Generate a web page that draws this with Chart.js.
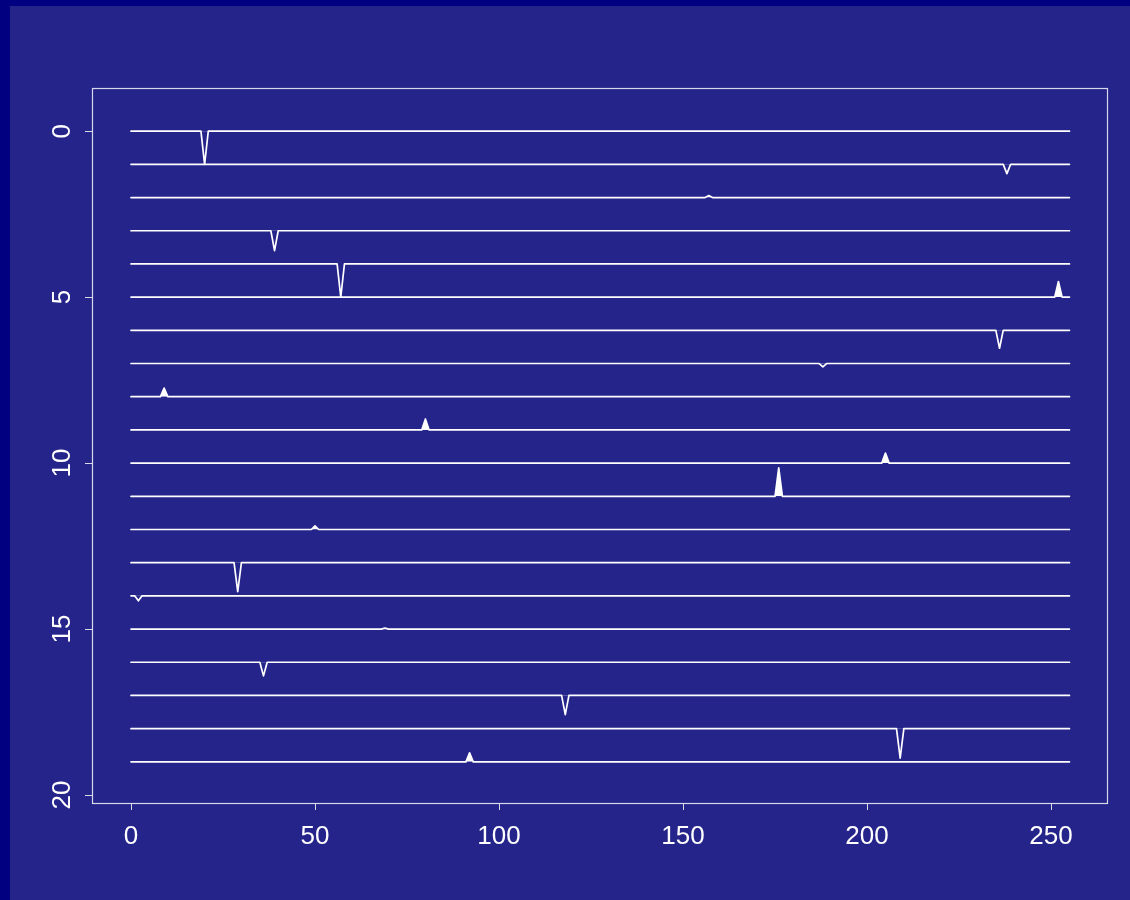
<!DOCTYPE html>
<html lang="en">
  <head>
    <meta charset="UTF-8">
    <title>Spike rows</title>
    <script src="https://cdn.jsdelivr.net/npm/chart.js@4"></script>
    <style>
      html, body { margin: 0; padding: 0; background: #000080; }
      #wrap { position: absolute; left: 10px; top: 6px; width: 1120px; height: 894px; }
    </style>
  </head>
  <body>
    <div id="wrap"><canvas id="chart"></canvas></div>
    <script type="text/javascript">
      // one row per trace, baseline at the row index
      const rows = [0, 1, 2, 3, 4, 5, 6, 7, 8, 9, 10, 11, 12, 13, 14, 15, 16, 17, 18, 19]
      // x position of each row's spike
      const spikeX = [20, 238, 157, 39, 57, 252, 236, 188, 9, 80, 205, 176, 50, 29, 2, 69, 36, 118, 209, 92]
      // spike size in y units: positive dips down the page, negative rises (filled)
      const spikeSize = [1.0, 0.28, -0.06, 0.6, 1.0, -0.47, 0.54, 0.1, -0.26, -0.33, -0.3, -0.86, -0.11, 0.87, 0.15, -0.03, 0.41, 0.58, 0.89, -0.27]
      const xStart = 0
      const xEnd = 255
      const xTicks = [0, 50, 100, 150, 200, 250]
      const yTicks = [0, 5, 10, 15, 20]

      const bg = '#24248a'

      const datasets = rows.map((r, i) => {
        const s = spikeX[i]
        const pts = []
        if (s - 1 > xStart) pts.push({x: xStart, y: r})
        pts.push({x: Math.max(xStart, s - 1), y: r})
        pts.push({x: s, y: r + spikeSize[i]})
        pts.push({x: Math.min(xEnd, s + 1), y: r})
        if (s + 1 < xEnd) pts.push({x: xEnd, y: r})
        return {
          label: 'row ' + r,
          data: pts,
          borderColor: '#ffffff',
          borderWidth: 1.7,
          borderJoinStyle: 'round',
          borderCapStyle: 'round',
          pointRadius: 0,
          tension: 0,
          fill: {value: r, above: '#ffffff', below: 'rgba(0,0,0,0)'}
        }
      })

      const frame = {
        id: 'frame',
        beforeDraw(chart) {
          const ctx = chart.ctx
          ctx.save()
          ctx.fillStyle = bg
          ctx.fillRect(0, 0, chart.width, chart.height)
          ctx.restore()
        },
        afterDraw(chart) {
          const a = chart.chartArea
          const ctx = chart.ctx
          ctx.save()
          ctx.strokeStyle = '#d8d8e8'
          ctx.lineWidth = 1.2
          ctx.strokeRect(Math.round(a.left) + 0.5, Math.round(a.top) + 0.5,
            Math.round(a.right - a.left), Math.round(a.bottom - a.top))
          ctx.restore()
        }
      }

      const font = {family: '"Liberation Sans", Arial, sans-serif', size: 26}

      new Chart(document.getElementById('chart'), {
        type: 'line',
        data: {datasets},
        plugins: [frame],
        options: {
          responsive: true,
          maintainAspectRatio: false,
          animation: false,
          layout: {padding: {left: 0, top: 82, right: 23, bottom: 0}},
          plugins: {legend: {display: false}, tooltip: {enabled: false}},
          scales: {
            x: {
              type: 'linear',
              min: -10.6,
              max: 265.2,
              afterBuildTicks: s => { s.ticks = xTicks.map(v => ({value: v})) },
              afterFit: s => { s.height = 97 },
              border: {display: false},
              grid: {drawOnChartArea: false, tickLength: 7, color: '#d8d8e8', lineWidth: 1},
              ticks: {color: '#ffffff', font, padding: 11, maxRotation: 0}
            },
            y: {
              type: 'linear',
              reverse: true,
              min: -1.3,
              max: 20.24,
              afterBuildTicks: s => { s.ticks = yTicks.map(v => ({value: v})) },
              afterFit: s => { s.width = 82 },
              border: {display: false},
              grid: {drawOnChartArea: false, tickLength: 7, color: '#d8d8e8', lineWidth: 1},
              ticks: {color: '#ffffff', font, padding: 8, minRotation: 90, maxRotation: 90, crossAlign: 'center'}
            }
          }
        }
      })
    </script>
  </body>
</html>
